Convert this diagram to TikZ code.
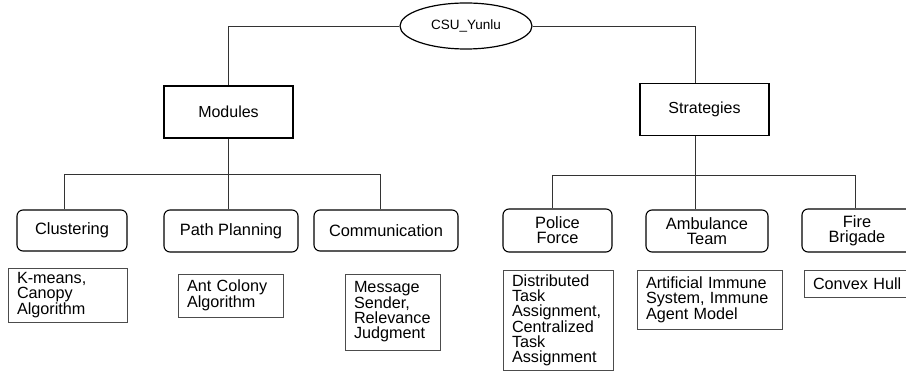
\documentclass[tikz,border=0pt]{standalone}
\usepackage{fontspec}
\setmainfont{Liberation Sans}
\usetikzlibrary{shapes.geometric,positioning}
\tikzset{root/.style={ % The team name at the top
            ellipse, draw, line width=1.2pt,
            minimum width=132pt, minimum height=46pt, inner sep=0pt,
            font=\fontsize{13.5}{14}\selectfont},
        topbox/.style={ % Modules and strategies
            rectangle, draw, line width=1.5pt,
            minimum width=129pt, minimum height=52pt, inner sep=0pt,
            font=\fontsize{16}{16}\selectfont},
        agentbox/.style={ % Second row, rounded
            rectangle, rounded corners=6pt, draw, line width=1.1pt,
            inner sep=0pt, align=center,
            font=\fontsize{16.4}{15}\selectfont},
        infobox/.style={ % Methods under each box
            rectangle, draw=black!70, line width=0.8pt,
            inner xsep=9pt, inner ysep=0pt, align=left,
            font=\fontsize{16.2}{15}\selectfont},
        link/.style={draw=black!80, line width=0.8pt}
        }

\begin{document}
\begin{tikzpicture}[x=1pt, y=-1pt]
    \useasboundingbox (0,0) rectangle (906,371);
    \clip (0,0) rectangle (906,371);

    \node[root] (root) at (466,26) {CSU\_Yunlu};
    \node[topbox] (modules) at (228.5,112) {Modules};
    \node[topbox] (strategies) at (704.5,109.5) {Strategies};

    \node[agentbox, minimum width=110pt, minimum height=41pt] (clus) at (72,230.5) {Clustering};
    \node[agentbox, minimum width=134pt, minimum height=42pt] (path) at (231,231) {Path Planning};
    \node[agentbox, minimum width=144pt, minimum height=41pt] (comm) at (386,230.5) {Communication};
    \node[agentbox, minimum width=109pt, minimum height=43pt] (police) at (557.5,230.5) {Police\\Force};
    \node[agentbox, minimum width=122pt, minimum height=42pt] (amb) at (707,231) {Ambulance\\Team};
    \node[agentbox, minimum width=110pt, minimum height=43pt] (fire) at (857,230.5) {Fire\\Brigade};

    \node[infobox, text width=101pt, minimum height=54pt] (clusinfo) at (67.5,295) {K-means,\\Canopy\\Algorithm};
    \node[infobox, text width=87pt, minimum height=43pt] (pathinfo) at (230.5,295.5) {Ant Colony\\Algorithm};
    \node[infobox, text width=77pt, minimum height=76pt] (comminfo) at (392.5,312) {Message\\Sender,\\Relevance\\Judgment};
    \node[infobox, text width=92pt, minimum height=100pt] (policeinfo) at (558,320) {Distributed\\Task\\Assignment,\\Centralized\\Task\\Assignment};
    \node[infobox, text width=127pt, minimum height=59pt] (ambinfo) at (709.5,299.5) {Artificial Immune\\System, Immune\\Agent Model};
    \node[infobox, text width=90pt, minimum height=27pt] (fireinfo) at (858,283.5) {Convex Hull};

    \coordinate (sdrop) at (695,26);
    \coordinate (mbusL) at (64,174);
    \coordinate (mbusR) at (380,174);
    \coordinate (sbusL) at (552,175);
    \coordinate (sbusR) at (855,175);

    \draw[link] (root.west) -| (modules.north);
    \draw[link] (root.east) -- (sdrop) -- (sdrop |- strategies.north);

    \draw[link] (modules.south) -- (modules.south |- mbusL);
    \draw[link] (mbusL) -- (mbusR);
    \draw[link] (mbusL) -- (mbusL |- clus.north);
    \draw[link] (modules.south |- mbusL) -- (modules.south |- path.north);
    \draw[link] (mbusR) -- (mbusR |- comm.north);

    \draw[link] (sdrop |- strategies.south) -- (sdrop |- sbusL);
    \draw[link] (sbusL) -- (sbusR);
    \draw[link] (sbusL) -- (sbusL |- police.north);
    \draw[link] (sdrop |- sbusL) -- (sdrop |- amb.north);
    \draw[link] (sbusR) -- (sbusR |- fire.north);
\end{tikzpicture}
\end{document}
